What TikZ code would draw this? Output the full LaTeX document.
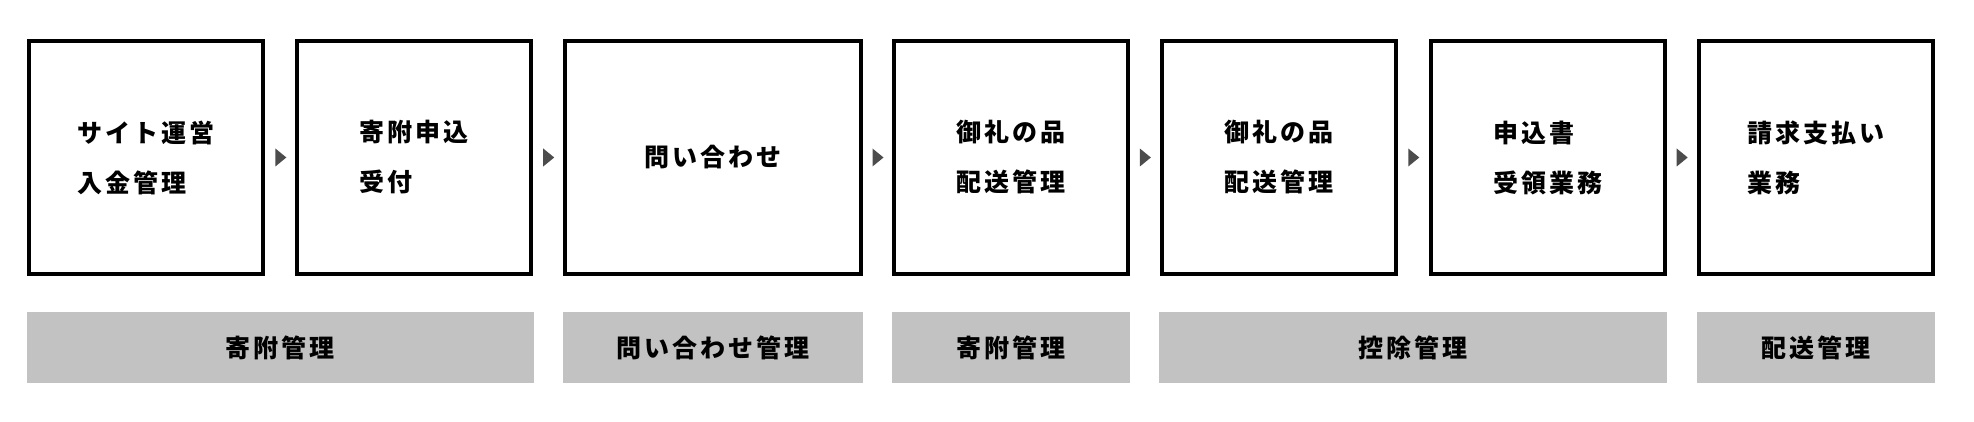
\documentclass[tikz,border=0pt]{standalone}
\usepackage{fontspec}
\setmainfont{Noto Sans CJK JP}[LetterSpace=12]
\usetikzlibrary{positioning,calc}

\begin{document}
\begin{tikzpicture}[x=0.996pt, y=-1pt,
        stepbox/.style={rectangle, draw, line width=4pt, minimum height=233pt, align=left, font=\fontsize{25}{50}\selectfont\bfseries, inner sep=0pt},
        bar/.style={rectangle, fill=black!24, minimum height=71pt, font=\fontsize{25}{30}\selectfont\bfseries, inner sep=0pt},
        tri/.style={fill=black!70}
    ]
    \useasboundingbox (0,0) rectangle (1982,422);

    % Steps
    \node[stepbox, minimum width=234pt] (site) at (147,157.5) {サイト運営\\入金管理};
    \node[stepbox, minimum width=234pt] (apply) at (416,157.5) {寄附申込\\受付};
    \node[stepbox, minimum width=296pt] (inquiry) at (716,157.5) {問い合わせ};
    \node[stepbox, minimum width=234pt] (gift_a) at (1015,157.5) {御礼の品\\配送管理};
    \node[stepbox, minimum width=234pt] (gift_b) at (1284,157.5) {御礼の品\\配送管理};
    \node[stepbox, minimum width=234pt] (form) at (1554,157.5) {申込書\\受領業務};
    \node[stepbox, minimum width=234pt] (billing) at (1823,157.5) {請求支払い\\業務};

    % Arrows between steps
    \foreach \a/\b in {site/apply, apply/inquiry, inquiry/gift_a, gift_a/gift_b, gift_b/form, form/billing}{
        \path ($(\a.east)!0.5!(\b.west)$) coordinate (m);
        \fill[tri] ([xshift=-5pt,yshift=-9pt]m) -- ([xshift=6pt]m) -- ([xshift=-5pt,yshift=9pt]m) -- cycle;
    }

    % Categories
    \node[bar, minimum width=507pt] (donation) at (281.5,347.5) {寄附管理};
    \node[bar, minimum width=300pt] (inquiry_mgmt) at (716,347.5) {問い合わせ管理};
    \node[bar, minimum width=238pt] (donation_b) at (1015,347.5) {寄附管理};
    \node[bar, minimum width=508pt] (deduction) at (1419,347.5) {控除管理};
    \node[bar, minimum width=238pt] (shipping) at (1823,347.5) {配送管理};

\end{tikzpicture}
\end{document}
